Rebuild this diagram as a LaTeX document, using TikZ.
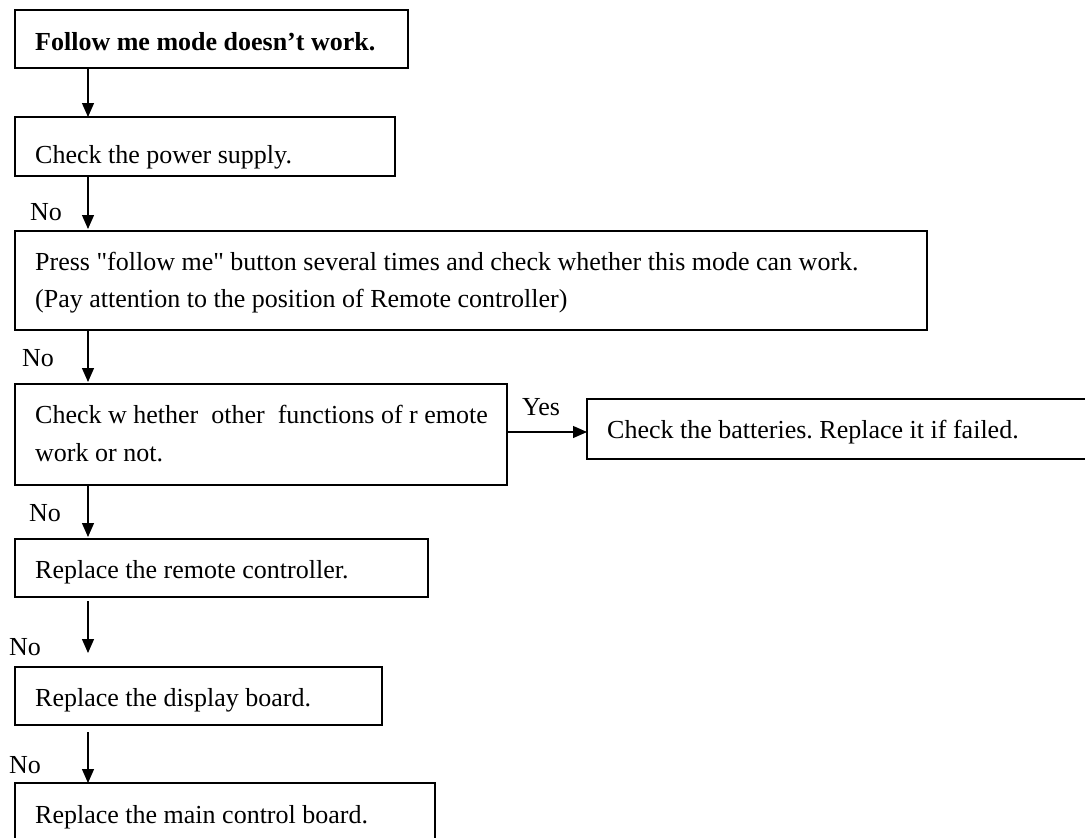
\documentclass[tikz,border=0pt]{standalone}
\usepackage{fontspec}
\setmainfont{Liberation Serif}[Ligatures=TeXOff]
\usetikzlibrary{arrows.meta}
\frenchspacing
\begin{document}
\begin{tikzpicture}[x=1pt,y=-1pt,
  box/.style={draw, line width=1.2pt, rectangle, inner sep=0pt, outer sep=0pt, anchor=north west},
  txt/.style={anchor=base west, inner sep=0pt, font=\fontsize{26}{31}\selectfont},
  lbl/.style={anchor=base west, inner sep=0pt, font=\fontsize{26}{31}\selectfont},
  flow/.style={line width=1.2pt, -{Triangle[width=12pt,length=14pt]}}]
\useasboundingbox (0,0) rectangle (1085,838);
\coordinate (spine) at (88,0);
\coordinate (yesrow) at (0,432);

% boxes
\node[box, minimum width=393pt, minimum height=58pt] (b1) at (15,10) {};
\node[box, minimum width=380pt, minimum height=59pt] (b2) at (15,117) {};
\node[box, minimum width=912pt, minimum height=99pt] (b3) at (15,231) {};
\node[box, minimum width=492pt, minimum height=101pt] (b4) at (15,384) {};
\node[box, minimum width=510pt, minimum height=60pt] (b5) at (587,399) {};
\node[box, minimum width=413pt, minimum height=58pt] (b6) at (15,539) {};
\node[box, minimum width=367pt, minimum height=58pt] (b7) at (15,667) {};
\node[box, minimum width=420pt, minimum height=60pt] (b8) at (15,783) {};

% box texts
\node[txt, font=\fontsize{26}{31}\selectfont\bfseries] (t1) at ([shift={(20,40)}]b1.north west) {Follow me mode doesn’t work.};
\node[txt] (t2) at ([shift={(20,46)}]b2.north west) {Check the power supply.};
\node[txt] (t3a) at ([shift={(20,39)}]b3.north west) {Press "follow me" button several times and check whether this mode can work.};
\node[txt] (t3b) at ([shift={(20,76)}]b3.north west) {(Pay attention to the position of Remote controller)};
\node[txt] (t4a) at ([shift={(20,39)}]b4.north west) {Check w hether\ \ other\ \ functions of r emote};
\node[txt] (t4b) at ([shift={(20,77)}]b4.north west) {work or not.};
\node[txt] (t5) at ([shift={(20,39)}]b5.north west) {Check the batteries. Replace it if failed.};
\node[txt] (t6) at ([shift={(20,39)}]b6.north west) {Replace the remote controller.};
\node[txt] (t7) at ([shift={(20,39)}]b7.north west) {Replace the display board.};
\node[txt] (t8) at ([shift={(20,40)}]b8.north west) {Replace the main control board.};

% connectors
\draw[flow] (b1.south -| spine) -- (b2.north -| spine);
\draw[flow, shorten >=2pt] (b2.south -| spine) -- (b3.north -| spine);
\draw[flow, shorten >=2pt] (b3.south -| spine) -- (b4.north -| spine);
\draw[flow, shorten >=2pt] (b4.south -| spine) -- (b6.north -| spine);
\draw[flow, shorten <=4pt, shorten >=14pt] (b6.south -| spine) -- (b7.north -| spine);
\draw[flow, shorten <=7pt] (b7.south -| spine) -- (b8.north -| spine);
\draw[flow] (b4.east |- yesrow) -- (b5.west |- yesrow);

% branch labels
\node[lbl] (n1) at (30,220) {No};
\node[lbl] (n2) at (22,366) {No};
\node[lbl] (n3) at (29,521) {No};
\node[lbl] (n4) at (9,655) {No};
\node[lbl] (n5) at (9,773) {No};
\node[lbl] (y1) at (522,415) {Yes};
\end{tikzpicture}
\end{document}
